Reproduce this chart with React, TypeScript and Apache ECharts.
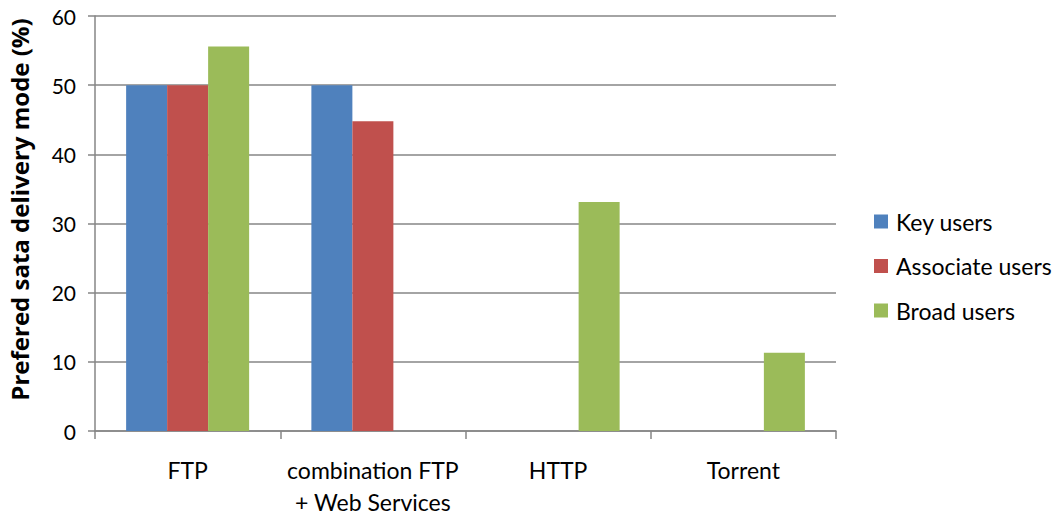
import React, { useEffect, useRef } from "react";
import * as echarts from "echarts";

const categories = ["FTP", "combination FTP\n+ Web Services", "HTTP", "Torrent"];
const keyUsers = [50, 50, null, null];
const associateUsers = [50, 44.8, null, null];
const broadUsers = [55.6, null, 33.1, 11.3];
const yTicks = [0, 10, 20, 30, 40, 50, 60];

const FONT = "Lato, 'Open Sans', sans-serif";

export default function App() {
  const ref = useRef<HTMLDivElement>(null);
  useEffect(() => {
    if (!ref.current) return;
    const chart = echarts.init(ref.current, null, { renderer: "svg" });
    chart.setOption({
      animation: false,
      textStyle: { fontFamily: FONT },
      grid: { left: 95, right: 225, top: 16, bottom: 84, outerBoundsMode: "none", containLabel: false },
      legend: {
        orient: "vertical",
        left: 869,
        top: 205,
        itemWidth: 14,
        itemHeight: 14,
        itemGap: 21.5,
        icon: "rect",
        textStyle: { fontSize: 23, color: "#000", fontFamily: FONT, padding: [0, 0, 0, 3] },
        data: ["Key users", "Associate users", "Broad users"],
      },
      xAxis: {
        type: "category",
        data: categories,
        axisLine: { lineStyle: { color: "#868686", width: 1.5 } },
        axisTick: { show: true, length: 8, lineStyle: { color: "#868686", width: 1.5 } },
        axisLabel: { interval: 0, fontSize: 23, color: "#000", margin: 23, lineHeight: 32, fontFamily: FONT },
      },
      yAxis: {
        type: "value",
        min: yTicks[0],
        max: yTicks[yTicks.length - 1],
        interval: 10,
        name: "Prefered sata delivery mode (%)",
        nameLocation: "middle",
        nameGap: 64,
        nameTextStyle: {
          fontSize: 24,
          fontWeight: "bold",
          color: "#000",
          fontFamily: "'Open Sans', sans-serif",
          padding: [0, 0, 0, 28],
        },
        axisLine: { show: true, lineStyle: { color: "#868686", width: 1.5 } },
        axisTick: { show: true, length: 7, lineStyle: { color: "#868686", width: 1.5 } },
        axisLabel: { fontSize: 21, color: "#000", margin: 19, fontFamily: FONT },
        splitLine: { lineStyle: { color: "#868686", width: 1.5 } },
      },
      series: [
        { name: "Key users", type: "bar", data: keyUsers, barWidth: 41, barGap: "0%", itemStyle: { color: "#4F81BD" } },
        { name: "Associate users", type: "bar", data: associateUsers, barWidth: 41, barGap: "0%", itemStyle: { color: "#C0504D" } },
        { name: "Broad users", type: "bar", data: broadUsers, barWidth: 41, barGap: "0%", itemStyle: { color: "#9BBB59" } },
      ],
    });
    return () => chart.dispose();
  }, []);
  return <div ref={ref} style={{ width: 1061, height: 515, position: "absolute", left: 0, top: 0 }} />;
}
